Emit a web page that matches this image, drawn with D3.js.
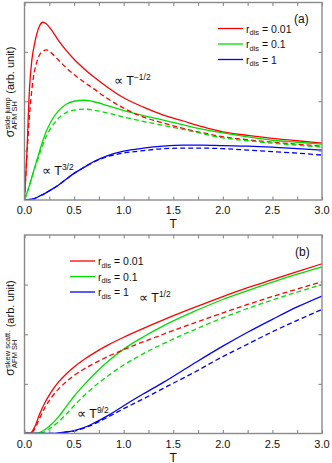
<!DOCTYPE html>
<html><head><meta charset="utf-8">
<script src="https://cdn.jsdelivr.net/npm/d3@7"></script>
<style>body{margin:0;background:#fff}svg{display:block}text{font-family:"Liberation Sans",Arial,sans-serif;fill:#111}</style>
</head><body>
<svg id="c" width="332" height="463"></svg>
<script>
// ---- data ----
const xTicks = [0.0, 0.5, 1.0, 1.5, 2.0, 2.5, 3.0];
const legendLabels = ["0.01", "0.1", "1"];
const colors = ["#ff0000", "#00dd00", "#0000ff"];

const T_A = [0,0.025,0.05,0.075,0.1,0.125,0.15,0.185,0.22,0.27,0.34,0.42,0.5,0.6,0.7,0.84,1.0,1.2,1.4,1.6,1.8,2.0,2.25,2.5,2.75,3.0];
const aRedSolid   = [0,1.0,2.25,2.85,3.15,3.37,3.52,3.6,3.57,3.45,3.24,3.03,2.85,2.66,2.49,2.28,2.07,1.88,1.72,1.6,1.48,1.38,1.31,1.25,1.2,1.15];
const aRedDash    = [0,0.9,1.7,2.25,2.6,2.8,2.93,3.01,3.04,2.98,2.84,2.68,2.54,2.39,2.25,2.05,1.86,1.68,1.56,1.45,1.36,1.28,1.22,1.17,1.13,1.09];
const aGreenSolid = [0,0.14,0.3,0.47,0.64,0.81,0.98,1.2,1.39,1.6,1.8,1.94,2.0,2.02,1.99,1.91,1.81,1.71,1.62,1.52,1.43,1.36,1.28,1.21,1.17,1.13];
const aGreenDash  = [0,0.14,0.3,0.46,0.62,0.77,0.92,1.12,1.29,1.47,1.65,1.77,1.82,1.84,1.82,1.76,1.68,1.59,1.51,1.43,1.34,1.26,1.2,1.15,1.11,1.07];
const aBlueSolid  = [0,0,0.01,0.02,0.03,0.05,0.08,0.11,0.15,0.21,0.3,0.42,0.54,0.66,0.78,0.9,0.99,1.05,1.09,1.11,1.11,1.1,1.09,1.07,1.04,1.01];
const aBlueDash   = [0,0,0.01,0.02,0.03,0.05,0.08,0.11,0.15,0.21,0.3,0.42,0.54,0.66,0.77,0.88,0.95,1.0,1.04,1.05,1.05,1.04,1.01,0.98,0.95,0.91];

const T_B = [0,0.05,0.1,0.15,0.2,0.27,0.34,0.42,0.5,0.6,0.7,0.84,1.0,1.2,1.4,1.7,2.0,2.25,2.5,2.75,3.0];
const bRedSolid   = [0,0,0.12,0.38,0.6,0.84,1.03,1.2,1.34,1.49,1.62,1.78,1.94,2.12,2.29,2.53,2.76,2.94,3.1,3.26,3.42];
const bRedDash    = [0,0,0.08,0.3,0.5,0.72,0.89,1.04,1.17,1.3,1.41,1.55,1.69,1.85,2.0,2.22,2.43,2.6,2.76,2.91,3.06];
const bGreenSolid = [0,0,0,0.02,0.07,0.18,0.33,0.54,0.75,0.98,1.19,1.45,1.7,1.95,2.17,2.45,2.7,2.88,3.05,3.21,3.36];
const bGreenDash  = [0,0,0,0.01,0.03,0.12,0.23,0.39,0.56,0.76,0.94,1.16,1.38,1.61,1.81,2.08,2.33,2.52,2.69,2.85,3.0];
const bBlueSolid  = [0,0,0,0,0,0,0.01,0.03,0.06,0.12,0.21,0.36,0.56,0.8,1.03,1.4,1.76,2.04,2.3,2.55,2.77];
const bBlueDash   = [0,0,0,0,0,0,0,0.03,0.05,0.11,0.19,0.33,0.5,0.7,0.91,1.22,1.55,1.8,2.05,2.28,2.5];

// ---- drawing ----
const svg = d3.select("#c");
const X0 = 24.5, X1 = 322;

function panel(cfg) {
  const x = d3.scaleLinear().domain([0, 3]).range([X0, X1]);
  const y = d3.scaleLinear().domain([0, 4]).range([cfg.bottom, cfg.top]);
  const g = svg.append("g");
  const clip = "clip" + cfg.id;
  g.append("clipPath").attr("id", clip).append("rect")
    .attr("x", X0).attr("y", cfg.top).attr("width", X1 - X0).attr("height", cfg.bottom - cfg.top);
  const line = d3.line().x((d) => x(d[0])).y((d) => y(d[1])).curve(d3.curveMonotoneX);
  const lg = g.append("g").attr("clip-path", `url(#${clip})`);
  cfg.series.forEach((s) => {
    lg.append("path").datum(cfg.T.map((t, i) => [t, s.v[i]]))
      .attr("d", line).attr("fill", "none").attr("stroke", s.c)
      .attr("stroke-width", 1.3)
      .attr("stroke-dasharray", s.dash ? "5,3" : null);
  });
  // axes (inward ticks)
  const frame = "#8a8a8a";
  const bx = g.append("g").attr("transform", `translate(0,${cfg.bottom})`)
    .call(d3.axisBottom(x).tickValues(d3.range(0, 3.01, 0.25)).tickSize(-3.5).tickFormat(""));
  const tx = g.append("g").attr("transform", `translate(0,${cfg.top})`)
    .call(d3.axisTop(x).tickValues(d3.range(0, 3.01, 0.25)).tickSize(-3.5).tickFormat(""));
  const ly = g.append("g").attr("transform", `translate(${X0},0)`)
    .call(d3.axisLeft(y).tickValues([1, 2, 3]).tickSize(-3.5).tickFormat(""));
  const ry = g.append("g").attr("transform", `translate(${X1},0)`)
    .call(d3.axisRight(y).tickValues([1, 2, 3]).tickSize(-3.5).tickFormat(""));
  [bx, tx, ly, ry].forEach((a) => {
    a.select(".domain").remove();
    a.selectAll("line").attr("stroke", frame).attr("stroke-width", 1.1);
  });
  g.append("rect").attr("x", X0).attr("y", cfg.top).attr("width", X1 - X0)
    .attr("height", cfg.bottom - cfg.top).attr("fill", "none")
    .attr("stroke", frame).attr("stroke-width", 1.4);
  // tick labels
  g.selectAll(".tl").data(xTicks).enter().append("text")
    .attr("x", (d) => x(d)).attr("y", cfg.bottom + 14).attr("text-anchor", "middle")
    .attr("font-size", 11).text((d) => d.toFixed(1));
  g.append("text").attr("x", (X0 + X1) / 2).attr("y", cfg.bottom + 28)
    .attr("text-anchor", "middle").attr("font-size", 12).text("T");
  // y label (rotated)
  const yl = g.append("g").attr("transform", `translate(14,${cfg.ylabY}) rotate(-90)`);
  const sig = yl.append("text").attr("font-size", 12).attr("x", 0).attr("y", 0).text("σ");
  const w0 = sig.node().getComputedTextLength();
  const sup = yl.append("text").attr("font-size", 7.5).attr("x", w0 + 0.5).attr("y", -4.5).text(cfg.sup);
  const sub = yl.append("text").attr("font-size", 7.5).attr("x", w0 + 0.5).attr("y", 3).text("AFM SH");
  const w1 = Math.max(sup.node().getComputedTextLength(), sub.node().getComputedTextLength());
  const rest = yl.append("text").attr("font-size", 11).attr("x", w0 + w1 + 4).attr("y", 0).text("(arb. unit)");
  const tot = w0 + w1 + 4 + rest.node().getComputedTextLength();
  yl.selectAll("text").attr("transform", `translate(${-tot / 2},0)`);
  // legend
  cfg.series.filter((s) => !s.dash).forEach((s, i) => {
    const ly0 = cfg.legY + i * 15.5;
    g.append("line").attr("x1", cfg.legX).attr("x2", cfg.legX + 25)
      .attr("y1", ly0).attr("y2", ly0).attr("stroke", s.c).attr("stroke-width", 1.3);
    const t = g.append("text").attr("x", cfg.legX + 28).attr("y", ly0 + 4).attr("font-size", 10.5);
    t.append("tspan").text("r");
    t.append("tspan").attr("font-size", 7.5).attr("dy", 2.5).text("dis");
    t.append("tspan").attr("dy", -2.5).text(" = " + legendLabels[i]);
  });
  // panel tag
  g.append("text").attr("x", cfg.tagX).attr("y", cfg.tagY).attr("font-size", 12).text(cfg.tag);
  // annotations
  cfg.notes.forEach((n) => {
    const t = g.append("text").attr("x", n.x).attr("y", n.y).attr("font-size", 12.5);
    t.append("tspan").text("∝ T");
    t.append("tspan").attr("font-size", 8.5).attr("dy", -5).text(n.p);
  });
}

panel({
  id: "a", top: 2.5, bottom: 200, T: T_A, sup: "side jump", ylabY: 92,
  series: [
    {v: aRedSolid, c: colors[0]}, {v: aGreenSolid, c: colors[1]}, {v: aBlueSolid, c: colors[2]},
    {v: aRedDash, c: colors[0], dash: true}, {v: aGreenDash, c: colors[1], dash: true}, {v: aBlueDash, c: colors[2], dash: true}
  ],
  legX: 218, legY: 28.5, tag: "(a)", tagX: 294, tagY: 23,
  notes: [{x: 114, y: 85, p: "−1/2"}, {x: 42, y: 175, p: "3/2"}]
});
panel({
  id: "b", top: 235, bottom: 433.5, T: T_B, sup: "skew scatt.", ylabY: 328,
  series: [
    {v: bRedSolid, c: colors[0]}, {v: bGreenSolid, c: colors[1]}, {v: bBlueSolid, c: colors[2]},
    {v: bRedDash, c: colors[0], dash: true}, {v: bGreenDash, c: colors[1], dash: true}, {v: bBlueDash, c: colors[2], dash: true}
  ],
  legX: 70, legY: 261, tag: "(b)", tagX: 295, tagY: 256,
  notes: [{x: 139, y: 302, p: "1/2"}, {x: 77, y: 418, p: "9/2"}]
});
</script>
</body></html>
